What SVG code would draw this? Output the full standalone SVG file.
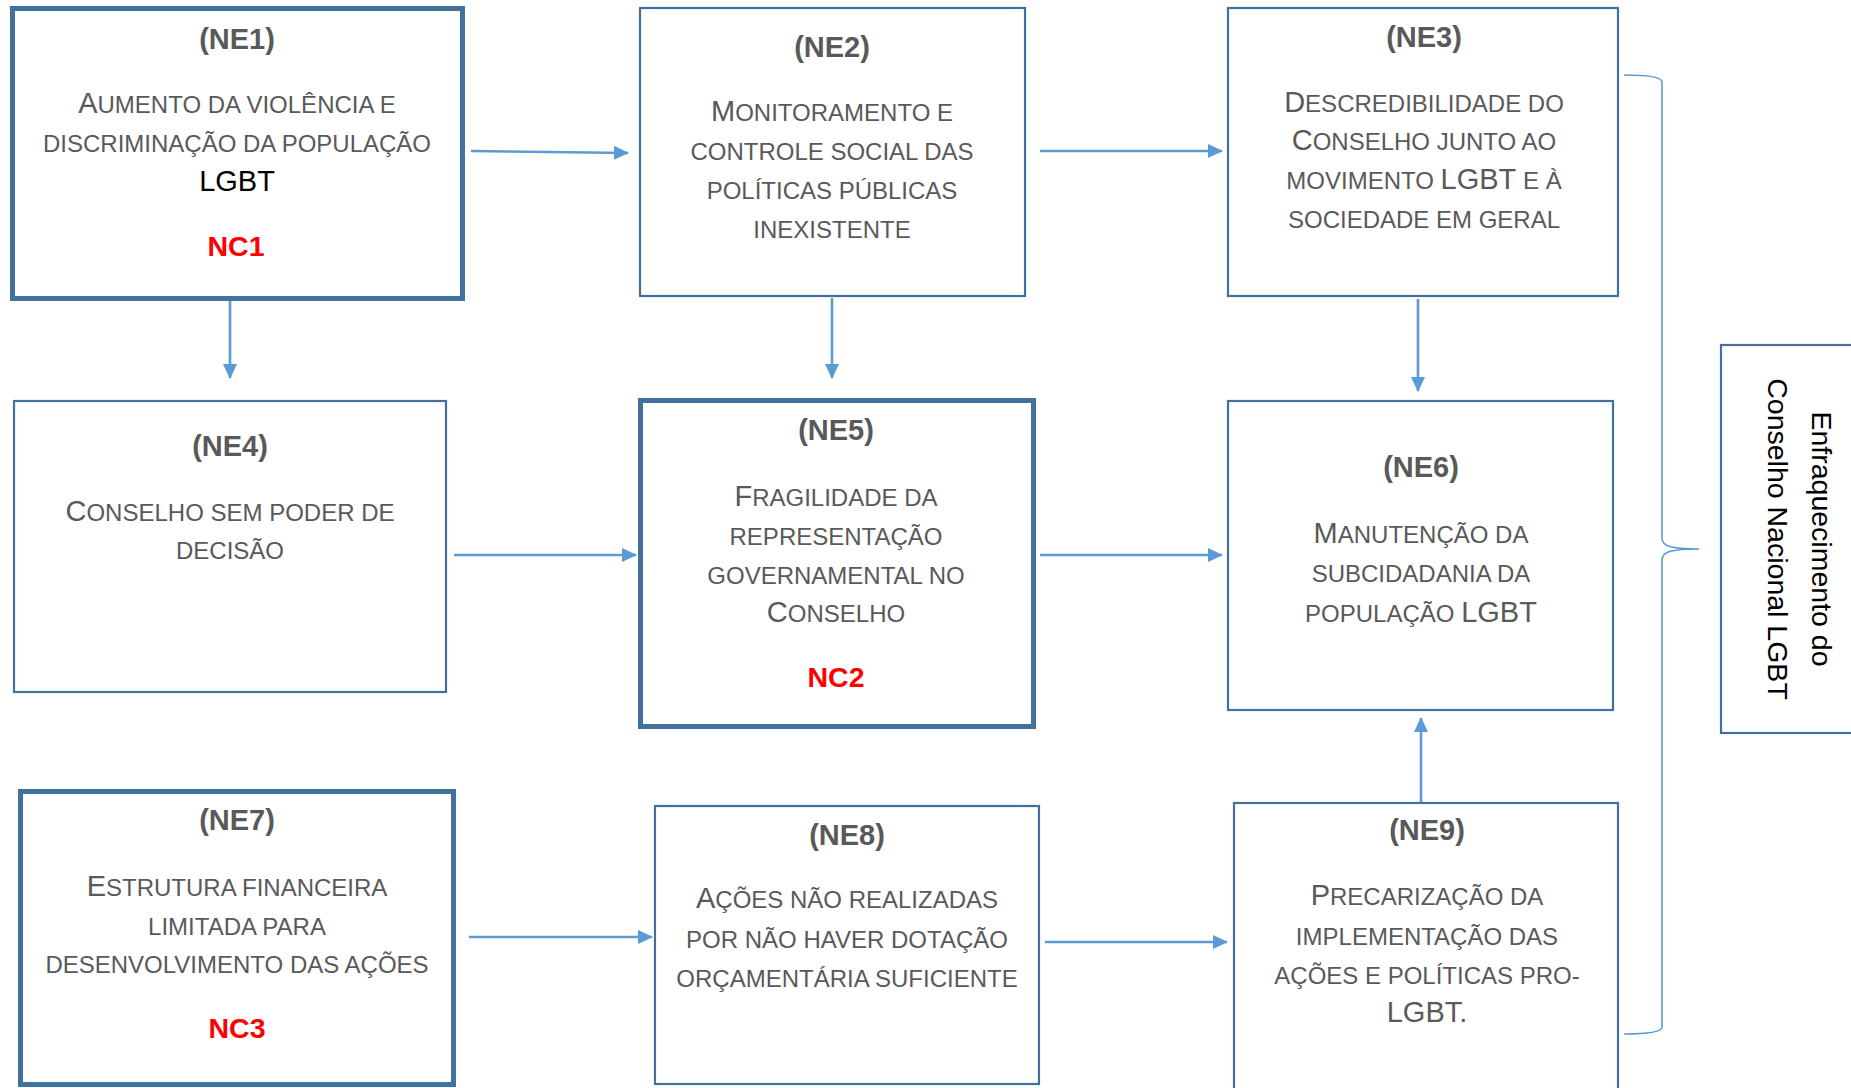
<svg xmlns="http://www.w3.org/2000/svg" width="1851" height="1088" viewBox="0 0 1851 1088">
<style>
text{font-family:"Liberation Sans",Arial,sans-serif;text-anchor:middle}
.box{fill:#fff;stroke:#41719C;stroke-width:2.2}
.thick{stroke-width:5}
.t{font-weight:bold;font-size:29px;fill:#595959}
.b{font-size:24px;fill:#595959}
.C{font-size:29px}
.k{fill:#000}
.nc{font-weight:bold;font-size:28.5px;fill:#FF0000}
.ar{stroke:#5B9BD5;stroke-width:2.6;fill:none;marker-end:url(#ah)}
.brace{stroke:#5B9BD5;stroke-width:1.6;fill:none}
.v{font-size:28.5px;fill:#000}
</style>
<defs>
<marker id="ah" viewBox="0 0 15 14" refX="14" refY="7" markerWidth="15" markerHeight="14" markerUnits="userSpaceOnUse" orient="auto">
<path d="M0,0 L15,7 L0,14 z" fill="#5B9BD5"/>
</marker>
</defs>
<rect width="1851" height="1088" fill="#fff"/>

<g id="connectors">
<line class="ar" x1="471" y1="151" x2="628" y2="153"/>
<line class="ar" x1="1040" y1="151" x2="1222" y2="151"/>
<line class="ar" x1="230" y1="301" x2="230" y2="378"/>
<line class="ar" x1="832" y1="298" x2="832" y2="378"/>
<line class="ar" x1="1418" y1="299" x2="1418" y2="391"/>
<line class="ar" x1="454" y1="555" x2="636" y2="555"/>
<line class="ar" x1="1040" y1="555" x2="1222" y2="555"/>
<line class="ar" x1="1421" y1="804" x2="1421" y2="718"/>
<line class="ar" x1="469" y1="937" x2="652" y2="937"/>
<line class="ar" x1="1045" y1="942" x2="1227" y2="942"/>
<path class="brace" d="M1624,75 C1648,75 1662,77 1662,82 L1662,538 C1662,546 1670,549 1699,549 C1670,549 1662,552 1662,560 L1662,1027 C1662,1032 1648,1034 1624,1034"/>
</g>

<g id="NE1">
<rect class="box thick" x="12.5" y="8.5" width="450" height="290"/>
<text class="t" x="237" y="49">(NE1)</text>
<text class="b" x="237" y="113"><tspan class="C">A</tspan>UMENTO DA VIOLÊNCIA E</text>
<text class="b" x="237" y="152">DISCRIMINAÇÃO DA POPULAÇÃO</text>
<text class="b C k" x="237" y="191">LGBT</text>
<text class="nc" x="236" y="256">NC1</text>
</g>

<g id="NE2">
<rect class="box" x="640" y="8" width="385" height="288"/>
<text class="t" x="832" y="57">(NE2)</text>
<text class="b" x="832" y="121"><tspan class="C">M</tspan>ONITORAMENTO E</text>
<text class="b" x="832" y="160">CONTROLE SOCIAL DAS</text>
<text class="b" x="832" y="199">POLÍTICAS PÚBLICAS</text>
<text class="b" x="832" y="238">INEXISTENTE</text>
</g>

<g id="NE3">
<rect class="box" x="1228" y="8" width="390" height="288"/>
<text class="t" x="1424" y="47">(NE3)</text>
<text class="b" x="1424" y="112"><tspan class="C">D</tspan>ESCREDIBILIDADE DO</text>
<text class="b" x="1424" y="150"><tspan class="C">C</tspan>ONSELHO JUNTO AO</text>
<text class="b" x="1424" y="189">MOVIMENTO <tspan class="C">LGBT</tspan> E À</text>
<text class="b" x="1424" y="228">SOCIEDADE EM GERAL</text>
</g>

<g id="NE4">
<rect class="box" x="14" y="401" width="432" height="291"/>
<text class="t" x="230" y="456">(NE4)</text>
<text class="b" x="230" y="521"><tspan class="C">C</tspan>ONSELHO SEM PODER DE</text>
<text class="b" x="230" y="559">DECISÃO</text>
</g>

<g id="NE5">
<rect class="box thick" x="640.5" y="400.5" width="393" height="326"/>
<text class="t" x="836" y="440">(NE5)</text>
<text class="b" x="836" y="506"><tspan class="C">F</tspan>RAGILIDADE DA</text>
<text class="b" x="836" y="545">REPRESENTAÇÃO</text>
<text class="b" x="836" y="584">GOVERNAMENTAL NO</text>
<text class="b" x="836" y="622"><tspan class="C">C</tspan>ONSELHO</text>
<text class="nc" x="836" y="687">NC2</text>
</g>

<g id="NE6">
<rect class="box" x="1228" y="401" width="385" height="309"/>
<text class="t" x="1421" y="477">(NE6)</text>
<text class="b" x="1421" y="543"><tspan class="C">M</tspan>ANUTENÇÃO DA</text>
<text class="b" x="1421" y="582">SUBCIDADANIA DA</text>
<text class="b" x="1421" y="622">POPULAÇÃO <tspan class="C">LGBT</tspan></text>
</g>

<g id="NE7">
<rect class="box thick" x="20.5" y="791.5" width="433" height="293"/>
<text class="t" x="237" y="830">(NE7)</text>
<text class="b" x="237" y="896"><tspan class="C">E</tspan>STRUTURA FINANCEIRA</text>
<text class="b" x="237" y="935">LIMITADA PARA</text>
<text class="b" x="237" y="973">DESENVOLVIMENTO DAS AÇÕES</text>
<text class="nc" x="237" y="1038">NC3</text>
</g>

<g id="NE8">
<rect class="box" x="655" y="806" width="384" height="278"/>
<text class="t" x="847" y="845">(NE8)</text>
<text class="b" x="847" y="908"><tspan class="C">A</tspan>ÇÕES NÃO REALIZADAS</text>
<text class="b" x="847" y="948">POR NÃO HAVER DOTAÇÃO</text>
<text class="b" x="847" y="987">ORÇAMENTÁRIA SUFICIENTE</text>
</g>

<g id="NE9">
<rect class="box" x="1234" y="803" width="384" height="300"/>
<text class="t" x="1427" y="840">(NE9)</text>
<text class="b" x="1427" y="905"><tspan class="C">P</tspan>RECARIZAÇÃO DA</text>
<text class="b" x="1427" y="945">IMPLEMENTAÇÃO DAS</text>
<text class="b" x="1427" y="984">AÇÕES E POLÍTICAS PRO-</text>
<text class="b" x="1427" y="1022"><tspan class="C">LGBT.</tspan></text>
</g>

<g id="RESULT">
<rect class="box" x="1721" y="345" width="140" height="388"/>
<text class="v" transform="translate(1812,539) rotate(90)" x="0" y="0">Enfraquecimento do</text>
<text class="v" transform="translate(1768,539) rotate(90)" x="0" y="0">Conselho Nacional LGBT</text>
</g>
</svg>
